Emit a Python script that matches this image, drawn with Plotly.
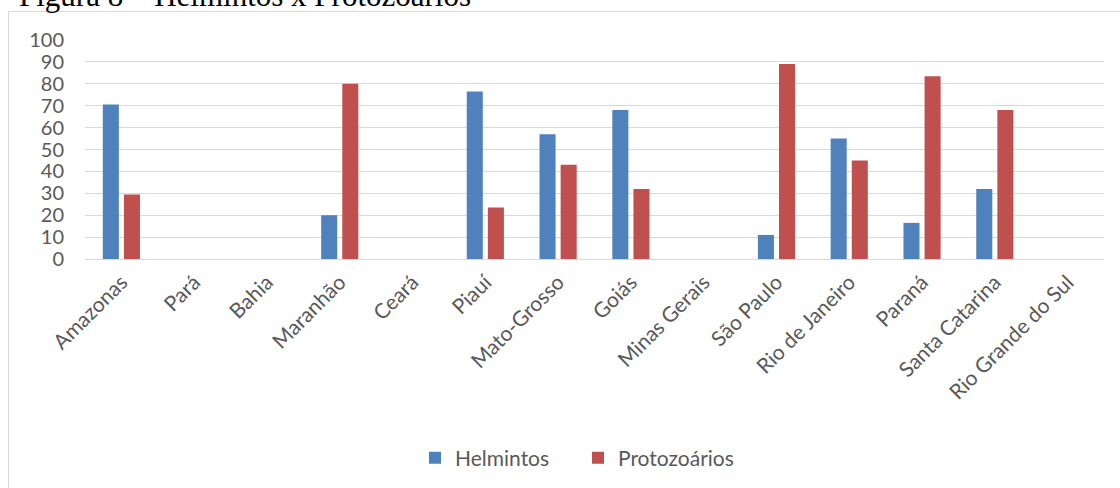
import plotly.graph_objects as go

categories = ["Amazonas", "Pará", "Bahia", "Maranhão", "Ceará", "Piauí", "Mato-Grosso",
              "Goiás", "Minas Gerais", "São Paulo", "Rio de Janeiro", "Paraná",
              "Santa Catarina", "Rio Grande do Sul"]
helmintos = [70.5, 0, 0, 20, 0, 76.5, 57, 68, 0, 11, 55, 16.5, 32, 0]
protozoarios = [29.5, 0, 0, 80, 0, 23.5, 43, 32, 0, 89, 45, 83.5, 68, 0]
y_ticks = [0, 10, 20, 30, 40, 50, 60, 70, 80, 90, 100]

W, H = 1120, 488
L, R, T, B = 85, 16, 40, 229
pw, ph = W - L - R, H - T - B

def px(x):
    return (x - L) / pw

def py(y):
    return (H - B - y) / ph

fig = go.Figure()
fig.add_trace(go.Bar(name="Helmintos", x=categories, y=helmintos, marker_color="#4F81BD",
                     marker_line_width=0))
fig.add_trace(go.Bar(name="Protozoários", x=categories, y=protozoarios, marker_color="#C0504D",
                     marker_line_width=0))

fig.update_layout(
    width=W, height=H,
    margin=dict(l=L, r=R, t=T, b=B, autoexpand=False),
    paper_bgcolor="white", plot_bgcolor="white",
    barmode="group", bargap=0.42, bargroupgap=0.24,
    font=dict(family="Lato, Arial, sans-serif", size=20, color="#595959"),
    showlegend=True,
    legend=dict(orientation="h", x=px(578), xanchor="center", y=py(458), yanchor="middle",
                font=dict(size=21, color="#595959"), itemsizing="constant",
                traceorder="normal", entrywidth=118),
    xaxis=dict(showgrid=False, showline=False, tickangle=-45, ticks="",
               tickfont=dict(size=21, color="#595959"), ticklabelstandoff=6),
    yaxis=dict(range=[0, 100], tickvals=y_ticks, showgrid=True, gridcolor="#d9d9d9",
               gridwidth=1, zeroline=True, zerolinecolor="#d9d9d9", zerolinewidth=1,
               showline=False, ticks="", tickfont=dict(size=20, color="#595959"),
               ticklabelstandoff=20),
    shapes=[dict(type="rect", xref="paper", yref="paper",
                 x0=px(8.5), x1=px(1130), y0=py(500), y1=py(11.5),
                 line=dict(color="#d9d9d9", width=1), fillcolor="rgba(0,0,0,0)",
                 layer="below")],
    annotations=[dict(text="Figura 8 – Helmintos x Protozoários", xref="paper", yref="paper",
                      x=px(473), xanchor="right", y=1, yanchor="bottom", yshift=25,
                      showarrow=False,
                      font=dict(family="Liberation Serif, Times New Roman, serif", size=31,
                                color="black"))],
)

fig.write_html("out.html")
